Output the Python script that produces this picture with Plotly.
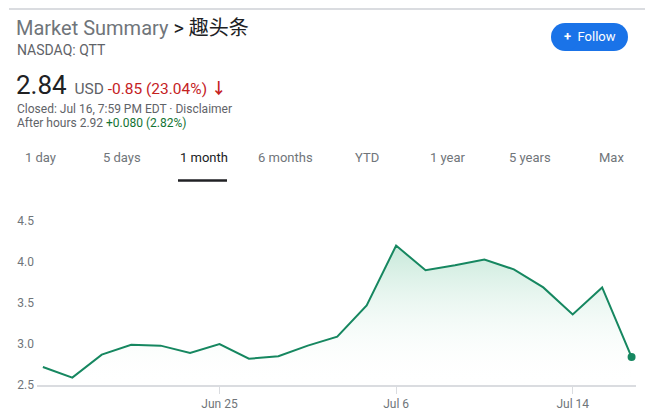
import plotly.graph_objects as go

# ---- data ----
dates = ["Jun 17", "Jun 18", "Jun 19", "Jun 22", "Jun 23", "Jun 24", "Jun 25",
         "Jun 26", "Jun 29", "Jun 30", "Jul 1", "Jul 2", "Jul 6", "Jul 7",
         "Jul 8", "Jul 9", "Jul 10", "Jul 13", "Jul 14", "Jul 15", "Jul 16"]
prices = [2.72, 2.59, 2.87, 2.99, 2.98, 2.89, 3.00, 2.82, 2.85, 2.98, 3.09,
          3.47, 4.20, 3.90, 3.96, 4.03, 3.91, 3.69, 3.36, 3.69, 2.84]
x_tick_labels = ["Jun 25", "Jul 6", "Jul 14"]
y_ticks = [2.5, 3.0, 3.5, 4.0, 4.5]
tabs = ["1 day", "5 days", "1 month", "6 months", "YTD", "1 year", "5 years", "Max"]
selected_tab = "1 month"

# the page body has an 8px margin, so the figure starts at (8, 8) in the window
OFF = 8
W, H = 653 - OFF, 413 - OFF
L, R, T, B = 37 - OFF, 17, 221 - OFF, 28
PW, PH = W - L - R, H - T - B

GREEN = "#168760"
GREY = "#70757a"
DARK = "#202124"
RED = "#c5221f"


def px(x, y):
    """window pixel position -> paper coordinates"""
    x, y = x - OFF, y - OFF
    return (x - L) / PW, (H - B - y) / PH


idx = list(range(len(dates)))
tickvals = [dates.index(d) for d in x_tick_labels]

fig = go.Figure()
fig.add_trace(go.Scatter(
    x=idx, y=prices, mode="lines", fill="tozeroy",
    line=dict(color=GREEN, width=2),
    fillgradient=dict(type="vertical", start=2.5, stop=max(prices),
                      colorscale=[[0, "rgba(255,255,255,0)"],
                                  [1, "rgba(30,165,105,0.25)"]]),
    hoverinfo="skip", showlegend=False,
))
fig.add_trace(go.Scatter(
    x=[idx[-1]], y=[prices[-1]], mode="markers",
    marker=dict(color=GREEN, size=8), hoverinfo="skip", showlegend=False,
))

fig.update_xaxes(range=[-0.2, len(dates) - 1 + 0.15], tickvals=tickvals,
                 ticktext=x_tick_labels, showgrid=False, zeroline=False,
                 showline=True, linecolor="#dadce0", linewidth=2,
                 ticks="outside", ticklen=7, tickcolor="#dadce0",
                 tickfont=dict(size=12, color=GREY), automargin=False)
fig.update_yaxes(range=[2.5, 4.5], tickvals=y_ticks,
                 ticktext=[f"{v:.1f}" for v in y_ticks], showgrid=False,
                 zeroline=False, showline=False, ticks="", ticklabelstandoff=2,
                 tickfont=dict(size=12, color=GREY), automargin=False)

ann = []


def text(x, y, s, size, color, anchor="left"):
    ax, ay = px(x, y)
    ann.append(dict(x=ax, y=ay, xref="paper", yref="paper", text=s,
                    showarrow=False, xanchor=anchor, yanchor="middle",
                    font=dict(size=size, color=color)))


text(14, 28, f"<span style='color:{GREY}'>Market Summary</span> &gt; 趣头条", 20, DARK)
text(15, 50, "NASDAQ: QTT", 14, "#5f6368")
text(14, 85, f"<span style='font-size:26px;color:{DARK}'>2.84</span>&nbsp; "
             f"<span style='color:#5f6368'>USD</span> "
             f"<span style='color:{RED}'>-0.85 (23.04%) <b>↓</b></span>", 15.5, DARK)
text(15, 109, "Closed: Jul 16, 7:59 PM EDT · Disclaimer", 12, "#5f6368")
text(15, 123, f"After hours 2.92 <span style='color:#137333'>+0.080 (2.82%)</span>",
     12, "#5f6368")

tab_x0, tab_dx = 40.6, 81.5
for i, t in enumerate(tabs):
    sel = t == selected_tab
    text(tab_x0 + i * tab_dx, 157, t, 13, DARK if sel else GREY, anchor="center")

# Follow button
text(590, 37, "<b>+</b>  Follow", 13, "white", anchor="center")
fig.update_layout(annotations=ann)

shapes = []
# follow button body
bx0, bx1, by0, by1 = 551, 628, 23, 51
rr = (by1 - by0) / 2
x0p, y0p = px(bx0 + rr, by0)
x1p, y1p = px(bx1 - rr, by1)
shapes.append(dict(type="rect", xref="paper", yref="paper",
                   x0=x0p, x1=x1p, y0=y1p, y1=y0p,
                   fillcolor="#1a73e8", line=dict(width=0), layer="below"))
# rounded ends
for cx in (bx0 + rr, bx1 - rr):
    a0, b0 = px(cx - rr, by0)
    a1, b1 = px(cx + rr, by1)
    shapes.append(dict(type="circle", xref="paper", yref="paper",
                       x0=a0, x1=a1, y0=b1, y1=b0,
                       fillcolor="#1a73e8", line=dict(width=0), layer="below"))
# tab underline
u0, uy = px(178, 180.5)
u1, _ = px(227, 180.5)
shapes.append(dict(type="line", xref="paper", yref="paper", x0=u0, x1=u1,
                   y0=uy, y1=uy, line=dict(color=DARK, width=2.5)))
# top border
t0, ty = px(9, 9)
t1, _ = px(652, 9)
shapes.append(dict(type="line", xref="paper", yref="paper", x0=t0, x1=t1,
                   y0=ty, y1=ty, line=dict(color="#dadce0", width=2)))
fig.update_layout(shapes=shapes)

fig.update_layout(
    width=W, height=H, margin=dict(l=L, r=R, t=T, b=B),
    paper_bgcolor="white", plot_bgcolor="white",
    font=dict(family="Roboto, 'Noto Sans CJK SC', sans-serif"),
)

fig.write_html("out.html")
